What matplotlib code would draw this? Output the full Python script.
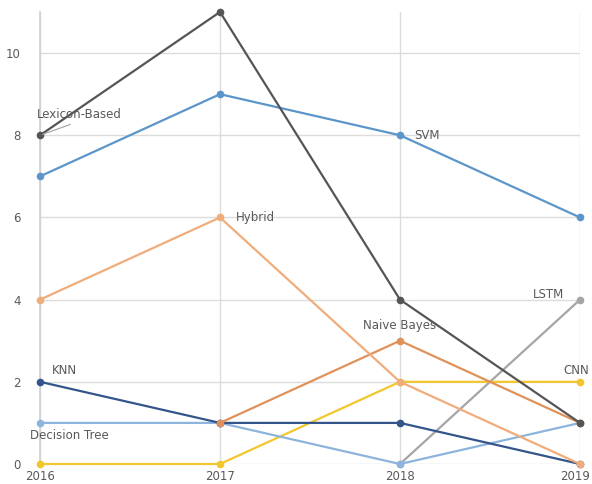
import matplotlib
matplotlib.use("Agg")

import matplotlib.pyplot as plt
from matplotlib.transforms import ScaledTranslation

# ── Data ──────────────────────────────────────────────────────────────────────
years = [2016, 2017, 2018, 2019]

lexicon_based = [8, 11, 4, 1]
svm           = [7, 9, 8, 6]
hybrid        = [4, 6, 2, 0]
naive_bayes   = [None, 1, 3, 1]
knn           = [2, 1, 1, 0]
decision_tree = [1, 1, 0, 1]
cnn           = [0, 0, 2, 2]
lstm          = [None, None, 0, 4]

y_ticks = [0, 2, 4, 6, 8, 10]

SERIES = [
    ("LSTM",          lstm,          "#a5a5a5"),
    ("CNN",           cnn,           "#f2c62c"),
    ("Decision Tree", decision_tree, "#8db4dc"),
    ("KNN",           knn,           "#34558b"),
    ("Naive Bayes",   naive_bayes,   "#e0915a"),
    ("Hybrid",        hybrid,        "#f0ac7a"),
    ("SVM",           svm,           "#5b95c9"),
    ("Lexicon-Based", lexicon_based, "#555555"),
]

TEXT_COLOR = "#595959"
GRID_COLOR = "#dcdcdc"

plt.rcParams["font.family"] = ["DejaVu Sans"]

# ── Figure setup ──────────────────────────────────────────────────────────────
fig = plt.figure(figsize=(5.92, 4.84), dpi=100, facecolor="white")
ax = fig.add_axes([40 / 592, 20 / 484, 540 / 592, 452 / 484])

for name, values, color in SERIES:
    xs = [x for x, v in zip(years, values) if v is not None]
    ys = [v for v in values if v is not None]
    ax.plot(xs, ys, color=color, linewidth=1.6, marker="o", markersize=4.5,
            clip_on=False, zorder=3)

ax.set_xlim(2016, 2019)
ax.set_ylim(0, 11)
ax.set_xticks(years)
ax.set_yticks(y_ticks)
ax.tick_params(length=0, colors=TEXT_COLOR, labelsize=8.5)
ax.tick_params(axis="x", pad=4)
ax.tick_params(axis="y", pad=14)
ax.grid(True, color=GRID_COLOR, linewidth=1)
ax.set_axisbelow(True)
for side in ["top", "right", "bottom"]:
    ax.spines[side].set_visible(False)
ax.spines["left"].set_color("#d0d0d0")
ax.spines["left"].set_linewidth(1.2)

# nudge the last year label so it stays inside the canvas
last = ax.get_xticklabels()[-1]
last.set_transform(last.get_transform()
                   + ScaledTranslation(-0.05, 0, fig.dpi_scale_trans))

# ── Series labels ─────────────────────────────────────────────────────────────
label_kw = dict(fontsize=8.5, color=TEXT_COLOR, zorder=4)
ax.annotate("Lexicon-Based", xy=(years[0], lexicon_based[0]),
            xytext=(years[0] - 0.017, lexicon_based[0] + 0.5),
            ha="left", va="center",
            arrowprops=dict(arrowstyle="-", color="#a0a0a0", lw=0.8,
                            shrinkA=1, shrinkB=2, relpos=(0.5, 0.0)),
            **label_kw)
ax.text(years[2] + 0.08, svm[2], "SVM", ha="left", va="center", **label_kw)
ax.text(years[1] + 0.09, hybrid[1], "Hybrid", ha="left", va="center", **label_kw)
ax.text(years[2], naive_bayes[2] + 0.38, "Naive Bayes", ha="center",
        va="center", **label_kw)
ax.text(years[3] - 0.09, lstm[3] + 0.12, "LSTM", ha="right", va="center",
        **label_kw)
ax.text(years[3] - 0.095, cnn[3] + 0.28, "CNN", ha="left", va="center",
        **label_kw)
ax.text(years[0] + 0.067, knn[0] + 0.28, "KNN", ha="left", va="center",
        **label_kw)
ax.text(years[0] - 0.055, decision_tree[0] - 0.3, "Decision Tree", ha="left",
        va="center", **label_kw)

fig.savefig("out.png", dpi=100, facecolor=fig.get_facecolor())
